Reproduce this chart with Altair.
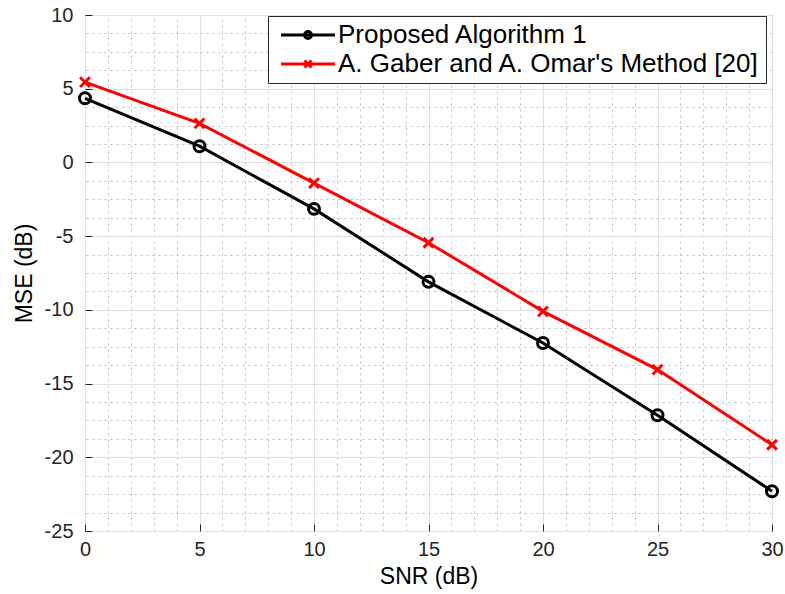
import altair as alt
import pandas as pd

# SNR sweep and measured MSE for both estimators
snr_db = [0, 5, 10, 15, 20, 25, 30]
mse_proposed = [4.35, 1.1, -3.15, -8.1, -12.25, -17.15, -22.3]
mse_gaber = [5.45, 2.65, -1.4, -5.45, -10.1, -14.05, -19.15]

series_names = ["Proposed Algorithm 1", "A. Gaber and A. Omar's Method [20]"]
series_colors = ["#000000", "#ff0000"]

# axis ticks: major labelled values and dotted minor grid positions
x_major = [0, 5, 10, 15, 20, 25, 30]
y_major = [-25, -20, -15, -10, -5, 0, 5, 10]
x_minor = list(range(0, 31))
y_minor = [-25 + 1.25 * i for i in range(29)]

df = pd.DataFrame(
    {
        "snr": snr_db * 2,
        "mse": mse_proposed + mse_gaber,
        "series": [series_names[0]] * len(snr_db) + [series_names[1]] * len(snr_db),
    }
)

FONT = "Liberation Sans"
AX = "#262626"
PLAIN = "'' + datum.value"  # ASCII hyphen for negatives
TICK = 7

x_scale = alt.Scale(domain=[0, 30], nice=False, zero=False)
y_scale = alt.Scale(domain=[-25, 10], nice=False, zero=False)

# axes pushed into the plot by the tick length so that ticks point inward
x_axis = alt.Axis(
    values=x_major, labelExpr=PLAIN, grid=True, gridColor="#e0e0e0", gridWidth=1,
    offset=-TICK, ticks=True, tickSize=TICK, tickColor=AX, tickWidth=1, domain=False,
    labelFontSize=20, labelColor=AX, labelFont=FONT, labelPadding=8,
    labelFlush=False, title="SNR (dB)", titleFontSize=23, titleFontWeight="normal",
    titleColor="#000000", titleFont=FONT, titlePadding=6,
)
y_axis = alt.Axis(
    values=y_major, labelExpr=PLAIN, grid=True, gridColor="#e0e0e0", gridWidth=1,
    offset=-TICK, ticks=True, tickSize=TICK, tickColor=AX, tickWidth=1, domain=False,
    labelFontSize=20, labelColor=AX, labelFont=FONT, labelPadding=12,
    labelFlush=False, title="MSE (dB)", titleFontSize=23, titleFontWeight="normal",
    titleColor="#000000", titleFont=FONT, titlePadding=8,
)

base = alt.Chart(df)

# dotted minor grid, attached to top/right axes without labels
minor_grid = base.mark_point(opacity=0).encode(
    x=alt.X("snr:Q", scale=x_scale, axis=alt.Axis(
        orient="top", values=x_minor, grid=True, gridDash=[2, 4], gridColor="#bdbdbd",
        gridWidth=1, labels=False, ticks=False, domain=False, title=None)),
    y=alt.Y("mse:Q", scale=y_scale, axis=alt.Axis(
        orient="right", values=y_minor, grid=True, gridDash=[2, 4], gridColor="#bdbdbd",
        gridWidth=1, labels=False, ticks=False, domain=False, title=None)),
)

major = base.mark_point(opacity=0).encode(
    x=alt.X("snr:Q", scale=x_scale, axis=x_axis),
    y=alt.Y("mse:Q", scale=y_scale, axis=y_axis),
)

enc_x = alt.X("snr:Q", scale=x_scale, axis=None)
enc_y = alt.Y("mse:Q", scale=y_scale, axis=None)

line_a = base.transform_filter(alt.datum.series == series_names[0]).mark_line(
    color=series_colors[0], strokeWidth=3).encode(x=enc_x, y=enc_y)
line_b = base.transform_filter(alt.datum.series == series_names[1]).mark_line(
    color=series_colors[1], strokeWidth=3).encode(x=enc_x, y=enc_y)
pts_a = base.transform_filter(alt.datum.series == series_names[0]).mark_point(
    shape="circle", filled=False, color=series_colors[0], size=120, strokeWidth=3,
    opacity=1).encode(x=enc_x, y=enc_y)
pts_b = base.transform_filter(alt.datum.series == series_names[1]).mark_point(
    shape="M-1,-1L1,1M-1,1L1,-1", filled=False, color=series_colors[1], size=95,
    strokeWidth=3, opacity=1).encode(x=enc_x, y=enc_y)

# legend glyphs: line segment with the series marker (unit = 10 px at size 400)
legend_shapes = [
    "M-0.6,0H4.8M2.45,0A0.35,0.35 0 1,1 1.75,0A0.35,0.35 0 1,1 2.45,0",
    "M-0.6,0H4.8M1.75,-0.35L2.45,0.35M1.75,0.35L2.45,-0.35",
]
legend = alt.Legend(
    title=None, orient="none", legendX=183, legendY=1, labelFontSize=26,
    labelFont=FONT, labelColor="#000000", labelLimit=0, symbolSize=400,
    symbolStrokeWidth=3, labelOffset=38, rowPadding=3, padding=6,
    strokeColor=AX, fillColor="#ffffff", symbolOpacity=1,
)
legend_layer = base.transform_filter(alt.datum.snr < -100).mark_point(
    filled=False, opacity=1).encode(
    x=enc_x, y=enc_y,
    color=alt.Color("series:N", scale=alt.Scale(domain=series_names, range=series_colors),
                    legend=legend),
    shape=alt.Shape("series:N", scale=alt.Scale(domain=series_names, range=legend_shapes),
                    legend=legend),
)

chart = (
    alt.layer(minor_grid, major, line_a, line_b, pts_a, pts_b, legend_layer)
    .resolve_scale(x="shared", y="shared")
    .resolve_axis(x="independent", y="independent")
    .properties(
        width=687, height=516,
        autosize=alt.AutoSizeParams(type="none"),
        padding={"left": 85, "top": 15, "right": 13, "bottom": 63},
        background="#ffffff",
    )
    .configure_view(stroke=AX, strokeWidth=1)
)

chart.save("out.html", embed_options={"renderer": "svg", "actions": False})
